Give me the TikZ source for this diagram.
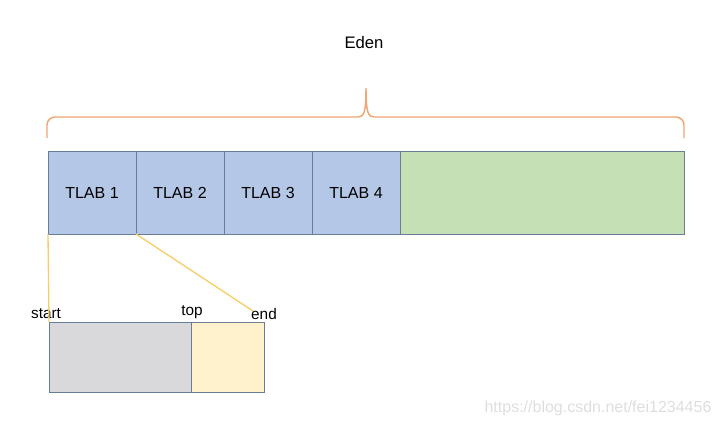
\documentclass[tikz,border=0pt]{standalone}
\usepackage{fontspec}
\setmainfont{Liberation Sans}
\usetikzlibrary{positioning}
\definecolor{tlabblue}{RGB}{180, 199, 231}
\definecolor{edengreen}{RGB}{197, 224, 180}
\definecolor{usedgray}{RGB}{217, 217, 220}
\definecolor{freeyellow}{RGB}{255, 242, 204}
\definecolor{boxline}{RGB}{105, 125, 150}
\definecolor{braceorange}{RGB}{240, 165, 115}
\definecolor{linkyellow}{RGB}{248, 205, 105}
\begin{document}
\begin{tikzpicture}[
    x=0.75pt, y=-0.75pt,
    block/.style={rectangle, draw=boxline, line width=0.7pt, outer sep=0pt, inner sep=0pt,
                  minimum height=62.25pt, font=\fontsize{12}{14}\selectfont},
    tlab/.style={block, fill=tlabblue, minimum width=66pt},
    part/.style={rectangle, draw=boxline, line width=0.7pt, outer sep=0pt, inner sep=0pt,
                 minimum height=52.5pt},
    tag/.style={font=\fontsize{11.5}{13}\selectfont, inner sep=1pt},
    brace/.style={braceorange, line width=1.1pt},
    link/.style={linkyellow, line width=1pt}
]
\useasboundingbox (0,0) rectangle (723,426);
\node[font=\fontsize{12.5}{14}\selectfont] (eden) at (364,43) {Eden};
\node[tlab, anchor=north west] (tlab1) at (48,151) {TLAB 1};
\node[tlab, right=0pt of tlab1] (tlab2) {TLAB 2};
\node[tlab, right=0pt of tlab2] (tlab3) {TLAB 3};
\node[tlab, right=0pt of tlab3] (tlab4) {TLAB 4};
\node[block, fill=edengreen, minimum width=213pt, right=0pt of tlab4] (free) {};
% the brace over eden
\draw[brace, rounded corners=6pt] (47,138) -- (47,117) -- (358,117);
\draw[brace, rounded corners=6pt] (374,117) -- (684,117) -- (684,138);
\draw[brace] (358,117) .. controls (364,117) and (366,112) .. (366,88)
    .. controls (366,112) and (368,117) .. (374,117);
% one tlab zoomed in
\node[part, fill=usedgray, minimum width=106.5pt, anchor=north west] (used) at (49,322) {};
\node[part, fill=freeyellow, minimum width=54.75pt, right=0pt of used] (rest) {};
\node[tag] (start) at (46,314) {start};
\node[tag] (top) at (192,312) {top};
\node[tag] (end) at (264,314) {end};
\coordinate (endtip) at (253,311);
\draw[link] (tlab1.south west) -- (used.north west);
\draw[link] (tlab1.south east) -- (endtip);
\node[text=black!13, font=\fontsize{12}{14}\selectfont] (mark) at (598,408) {https://blog.csdn.net/fei1234456};
\end{tikzpicture}
\end{document}
